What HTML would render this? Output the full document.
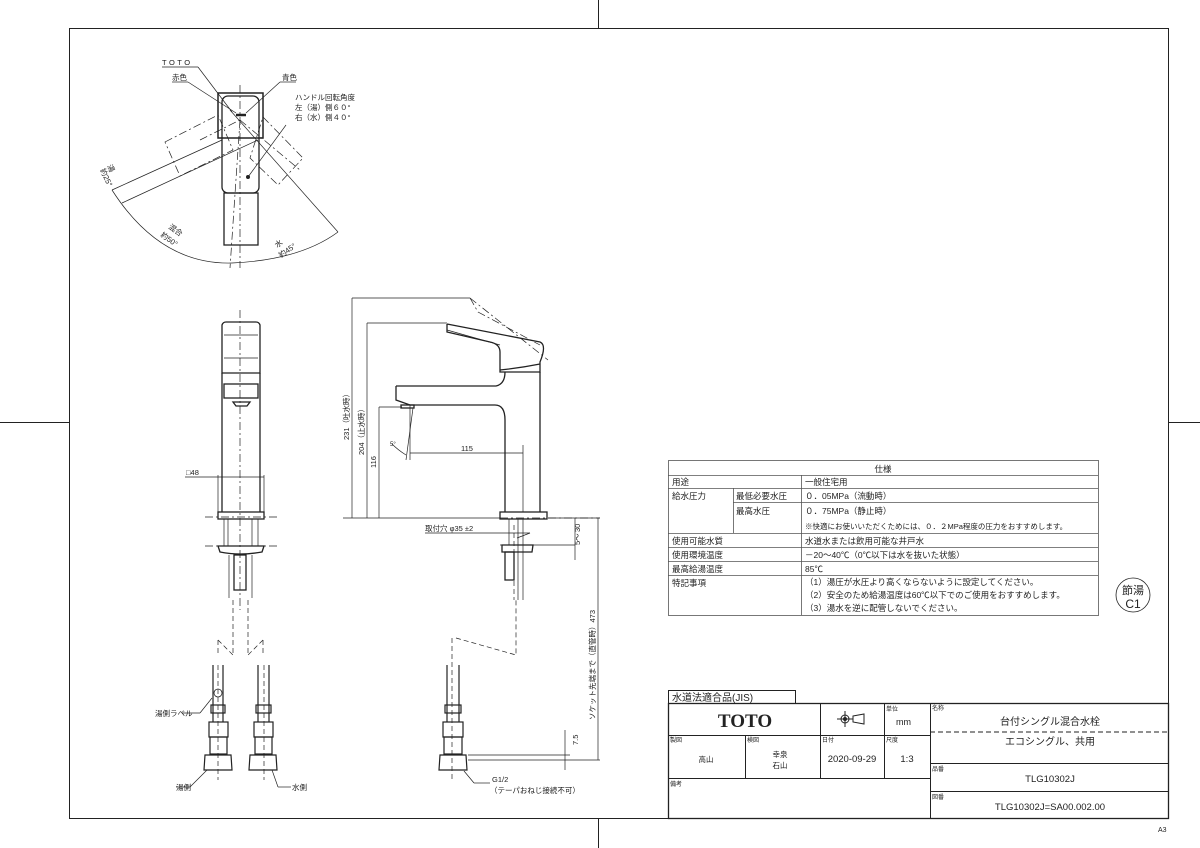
<!DOCTYPE html>
<html><head><meta charset="utf-8"><style>
html,body{margin:0;padding:0;background:#fff;width:1200px;height:848px;overflow:hidden}
svg{display:block}
text{font-family:"Liberation Sans","Noto Sans CJK JP",sans-serif;fill:#222}
</style></head><body>
<svg width="1200" height="848" viewBox="0 0 1200 848" xmlns="http://www.w3.org/2000/svg">
<g stroke="#222" fill="none" stroke-width="1">
<rect x="69.5" y="28.5" width="1099" height="790"/>
<line x1="598.5" y1="0" x2="598.5" y2="28"/>
<line x1="598.5" y1="818" x2="598.5" y2="848"/>
<line x1="0" y1="422.5" x2="69" y2="422.5"/>
<line x1="1168" y1="422.5" x2="1200" y2="422.5"/>

<!-- TOP VIEW -->
<rect x="218" y="93" width="45" height="45" stroke-width="1.5"/>
<rect x="222" y="96" width="37" height="97" rx="6" stroke-width="1.3"/>
<rect x="224" y="193" width="34" height="52" stroke-width="1.3"/>
<line x1="236" y1="115" x2="246" y2="115" stroke-width="2.5"/>
<circle cx="248" cy="177" r="1.5" fill="#222"/>
<g stroke-dasharray="8,3,2,3" stroke-width="0.7">
<line x1="240" y1="85" x2="240" y2="268"/>
<polygon points="165,142 218,115 233,150 180,176"/>
<polygon points="263,117 303,158 278,185 250,158"/>
<line x1="200" y1="140" x2="240" y2="120"/>
<line x1="240" y1="120" x2="230" y2="268"/>
<line x1="240" y1="120" x2="300" y2="170"/>
</g>
<g stroke-width="0.7">
<line x1="112" y1="190" x2="222" y2="140"/>
<line x1="122" y1="203" x2="258" y2="140"/>
<line x1="230" y1="110" x2="338" y2="232"/>
<path d="M112,190 Q160,265 232,263 Q300,260 338,232"/>
<line x1="162" y1="67" x2="198" y2="67"/>
<line x1="198" y1="67" x2="232" y2="112"/>
<line x1="172" y1="82" x2="188" y2="82"/>
<line x1="188" y1="82" x2="236" y2="113"/>
<line x1="296" y1="82" x2="280" y2="82"/>
<line x1="280" y1="82" x2="246" y2="113"/>
<line x1="286" y1="125" x2="248" y2="177"/>
</g>

<!-- FRONT VIEW -->
<g stroke-width="1.3">
<path d="M222,325 Q223,322 226,322 L256,322 Q259,322 260,325 L260,373 L222,373 Z"/>
<path d="M222,373 L222,512 M260,373 L260,512"/>
<rect x="224" y="384" width="34" height="14"/>
<path d="M233,402 L250,402 L247,406 L236,406 Z"/>
<rect x="218" y="512" width="46" height="7"/>
<path d="M218,546 L264,546 L262,552 Q240,556 220,552 Z"/>
<rect x="234" y="555" width="12" height="35"/>
</g>
<g stroke-width="0.7">
<line x1="224" y1="519" x2="224" y2="546"/><line x1="258" y1="519" x2="258" y2="546"/>
<line x1="228" y1="519" x2="228" y2="546"/><line x1="252" y1="519" x2="252" y2="546"/>
<line x1="229" y1="555" x2="229" y2="598"/><line x1="252" y1="555" x2="252" y2="598"/>
<line x1="218" y1="475" x2="218" y2="512"/><line x1="264" y1="475" x2="264" y2="512"/>
<line x1="185" y1="477" x2="264" y2="477"/>
<line x1="224" y1="335" x2="258" y2="335"/><line x1="224" y1="358" x2="258" y2="358"/>
</g>
<g stroke-dasharray="8,3,2,3" stroke-width="0.7">
<line x1="240" y1="310" x2="240" y2="610"/>
<line x1="205" y1="517" x2="280" y2="517"/>
<line x1="205" y1="546" x2="280" y2="546"/>
</g>
<g stroke-dasharray="5,3" stroke-width="0.7">
<line x1="233" y1="600" x2="233" y2="655"/><line x1="248" y1="600" x2="248" y2="655"/>
<polyline points="218,640 233,655"/><polyline points="263,640 248,655"/>
<line x1="218" y1="640" x2="218" y2="655"/><line x1="263" y1="640" x2="263" y2="655"/>
<line x1="218" y1="665" x2="218" y2="780"/><line x1="264" y1="665" x2="264" y2="780"/>
<line x1="452" y1="638" x2="452" y2="780"/>
<polyline points="456,638 516,655 516,598"/>
</g>
<g stroke-width="1.2">
<path d="M213,665 L213,722 M223,665 L223,722"/>
<path d="M258,665 L258,722 M269,665 L269,722"/>
<path d="M447,665 L447,722 M459,665 L459,722"/>
<rect x="211" y="705" width="14" height="8"/><rect x="256" y="705" width="15" height="8"/><rect x="445" y="705" width="16" height="8"/>
<rect x="209" y="722" width="19" height="15"/><rect x="254" y="722" width="19" height="15"/><rect x="443" y="722" width="20" height="15"/>
<rect x="210" y="737" width="17" height="17"/><rect x="255" y="737" width="17" height="17"/><rect x="444" y="737" width="18" height="17"/>
<path d="M205,755 L231,755 L232,770 L204,770 Z"/><path d="M250,755 L276,755 L277,770 L249,770 Z"/><path d="M440,755 L466,755 L467,770 L439,770 Z"/>
<circle cx="218" cy="693" r="4" stroke-width="0.8"/>
</g>
<g stroke-width="0.7">
<line x1="182" y1="713" x2="200" y2="713"/><line x1="200" y1="713" x2="212" y2="698"/>
<line x1="176" y1="787" x2="190" y2="787"/><line x1="190" y1="787" x2="207" y2="770"/>
<line x1="291" y1="787" x2="278" y2="787"/><line x1="278" y1="787" x2="272" y2="770"/>
<line x1="490" y1="783" x2="474" y2="783"/><line x1="474" y1="783" x2="464" y2="771"/>
</g>

<!-- SIDE VIEW -->
<g stroke-width="1.3">
<path d="M447,324 L447,332 L490,342 Q500,344 500,352 L500,372 L540,372 L540,362 Q547,345 540,342 L447,324"/>
<path d="M500,370 Q520,368 540,364"/>
<path d="M396,386 L496,386 Q505,384 505,372 M396,386 L396,400 L410,405 L495,405 Q505,405 505,420 L505,512 M540,372 L540,512"/>
<rect x="401" y="405" width="13" height="3"/>
<rect x="500" y="512" width="47" height="7"/>
<path d="M502,545 L533,545 L532,552 L502,552 Z"/>
<rect x="505" y="552" width="9" height="28"/>
</g>
<g stroke-width="0.7">
<line x1="509" y1="519" x2="509" y2="545"/><line x1="523" y1="519" x2="523" y2="600"/>
<line x1="518" y1="519" x2="518" y2="600"/>
<line x1="447" y1="330" x2="500" y2="345"/>
<line x1="352" y1="298" x2="470" y2="298"/><line x1="367" y1="323" x2="447" y2="323"/>
<line x1="379" y1="407" x2="402" y2="407"/>
<line x1="352" y1="298" x2="352" y2="518"/><line x1="367" y1="323" x2="367" y2="518"/><line x1="379" y1="407" x2="379" y2="518"/>
<line x1="343" y1="518" x2="500" y2="518"/>
<line x1="410" y1="453" x2="523" y2="453"/>
<line x1="410" y1="405" x2="410" y2="460"/><line x1="413" y1="408" x2="406" y2="460"/>
<line x1="523" y1="445" x2="523" y2="512"/>
<path d="M392,444 Q398,450 406,455"/>
<line x1="425" y1="533" x2="530" y2="533"/>
<line x1="517" y1="538" x2="530" y2="533"/>
<line x1="500" y1="545" x2="575" y2="545"/>
<line x1="548" y1="518" x2="600" y2="518"/>
<line x1="575" y1="518" x2="575" y2="560"/>
<line x1="598" y1="518" x2="598" y2="760"/>
<line x1="565" y1="730" x2="565" y2="770"/>
<line x1="468" y1="755" x2="570" y2="755"/>
<line x1="468" y1="760" x2="600" y2="760"/>
</g>
<g stroke-dasharray="8,3,2,3" stroke-width="0.7">
<line x1="470" y1="298" x2="548" y2="360"/>
<path d="M470,298 L478,312 L540,345"/>
<line x1="500" y1="518" x2="600" y2="518"/>
</g>
<g stroke-dasharray="5,3" stroke-width="0.7">
<line x1="514" y1="525" x2="514" y2="600"/>
</g>

<!-- SPEC TABLE -->
<g stroke-width="0.8" stroke="#555">
<rect x="668.5" y="460.5" width="430" height="155"/>
<line x1="668" y1="475.5" x2="1098" y2="475.5"/>
<line x1="668" y1="488.5" x2="1098" y2="488.5"/>
<line x1="733" y1="502.5" x2="1098" y2="502.5"/>
<line x1="668" y1="533.5" x2="1098" y2="533.5"/>
<line x1="668" y1="547.5" x2="1098" y2="547.5"/>
<line x1="668" y1="561.5" x2="1098" y2="561.5"/>
<line x1="668" y1="575.5" x2="1098" y2="575.5"/>
<line x1="801.5" y1="475" x2="801.5" y2="615"/>
<line x1="733.5" y1="488" x2="733.5" y2="533"/>
</g>
<circle cx="1133" cy="595" r="17" stroke-width="0.8"/>

<!-- TITLE BLOCK -->
<g stroke-width="1">
<rect x="668.5" y="690.5" width="127" height="13"/>
<rect x="668.5" y="703.5" width="500" height="115" stroke-width="1.3"/>
<line x1="668" y1="735.5" x2="930" y2="735.5"/>
<line x1="668" y1="778.5" x2="930" y2="778.5"/>
<line x1="820.5" y1="703" x2="820.5" y2="778"/>
<line x1="884.5" y1="703" x2="884.5" y2="778"/>
<line x1="930.5" y1="703" x2="930.5" y2="818"/>
<line x1="745.5" y1="735" x2="745.5" y2="778"/>
<line x1="930" y1="763.5" x2="1168" y2="763.5"/>
<line x1="930" y1="791.5" x2="1168" y2="791.5"/>
<line x1="930" y1="732" x2="1168" y2="732" stroke-dasharray="5,3"/>
<circle cx="845" cy="719" r="4"/><circle cx="845" cy="719" r="1.5" fill="#222"/>
<line x1="837" y1="719" x2="853" y2="719"/><line x1="845" y1="711" x2="845" y2="727"/>
<path d="M853,716 L864,714 L864,724 L853,722 Z"/>
</g>
</g>

<!-- TEXT -->
<g font-size="7.5">
<text x="162" y="65" letter-spacing="2.5">TOTO</text>
<text x="172" y="80">赤色</text>
<text x="282" y="80">青色</text>
<text x="295" y="100">ハンドル回転角度</text>
<text x="295" y="110">左（湯）側６０°</text>
<text x="295" y="120">右（水）側４０°</text>
<text transform="translate(107,166) rotate(65)">湯</text>
<text transform="translate(100,170) rotate(65)">約25°</text>
<text transform="translate(168,228) rotate(35)">混合</text>
<text transform="translate(160,236) rotate(35)">約50°</text>
<text transform="translate(277,248) rotate(-35)">水</text>
<text transform="translate(281,258) rotate(-35)">約45°</text>
<text x="186" y="475">□48</text>
<text transform="translate(349,440) rotate(-90)">231（吐水時）</text>
<text transform="translate(364,455) rotate(-90)">204（止水時）</text>
<text transform="translate(376,468) rotate(-90)">116</text>
<text x="461" y="451">115</text>
<text x="390" y="446" font-size="6">5°</text>
<text x="425" y="531">取付穴 φ35 ±2</text>
<text transform="translate(580,532) rotate(-90)">30</text>
<text transform="translate(580,545) rotate(-90)">5～</text>
<text transform="translate(595,720) rotate(-90)">ソケット先端まで（直管時）473</text>
<text transform="translate(578,745) rotate(-90)">7.5</text>
<text x="492" y="782">G1/2</text>
<text x="490" y="793">（テーパおねじ接続不可）</text>
<text x="155" y="716">湯側ラベル</text>
<text x="176" y="790">湯側</text>
<text x="292" y="790">水側</text>
<text x="1158" y="832" font-size="7">A3</text>
</g>
<g font-size="8.5">
<text x="883" y="472" text-anchor="middle">仕様</text>
<text x="672" y="485">用途</text><text x="805" y="485">一般住宅用</text>
<text x="672" y="499">給水圧力</text>
<text x="736" y="499">最低必要水圧</text><text x="805" y="499">０．05MPa（流動時）</text>
<text x="736" y="514">最高水圧</text><text x="805" y="514">０．75MPa（静止時）</text>
<text x="805" y="529" font-size="7.5">※快適にお使いいただくためには、０．２MPa程度の圧力をおすすめします。</text>
<text x="672" y="544">使用可能水質</text><text x="805" y="544">水道水または飲用可能な井戸水</text>
<text x="672" y="558">使用環境温度</text><text x="805" y="558">－20～40℃（0℃以下は水を抜いた状態）</text>
<text x="672" y="572">最高給湯温度</text><text x="805" y="572">85℃</text>
<text x="672" y="586">特記事項</text>
<text x="805" y="585">（1）湯圧が水圧より高くならないように設定してください。</text>
<text x="805" y="598">（2）安全のため給湯温度は60℃以下でのご使用をおすすめします。</text>
<text x="805" y="611">（3）湯水を逆に配管しないでください。</text>
<text x="1133" y="594" text-anchor="middle" font-size="11">節湯</text>
<text x="1133" y="608" text-anchor="middle" font-size="12">C1</text>
</g>
<g>
<text x="672" y="701" font-size="10">水道法適合品(JIS)</text>
<text x="745" y="727" text-anchor="middle" style="font-family:'Liberation Serif',serif;font-size:19px;font-weight:bold">TOTO</text>
<text x="886" y="711" font-size="6">単位</text>
<text x="896" y="725" font-size="9">mm</text>
<text x="932" y="710" font-size="6">名称</text>
<text x="1050" y="725" font-size="10" text-anchor="middle">台付シングル混合水栓</text>
<text x="1050" y="745" font-size="10" text-anchor="middle">エコシングル、共用</text>
<text x="670" y="742" font-size="6">製図</text>
<text x="747" y="742" font-size="6">検図</text>
<text x="822" y="742" font-size="6">日付</text>
<text x="886" y="742" font-size="6">尺度</text>
<text x="706" y="762" font-size="7.5" text-anchor="middle">高山</text>
<text x="780" y="757" font-size="7.5" text-anchor="middle">幸泉</text>
<text x="780" y="768" font-size="7.5" text-anchor="middle">石山</text>
<text x="852" y="762" font-size="9.5" text-anchor="middle">2020-09-29</text>
<text x="907" y="762" font-size="9.5" text-anchor="middle">1:3</text>
<text x="670" y="786" font-size="6">備考</text>
<text x="932" y="771" font-size="6">品番</text>
<text x="1050" y="782" font-size="9.5" text-anchor="middle">TLG10302J</text>
<text x="932" y="799" font-size="6">図番</text>
<text x="1050" y="810" font-size="9.5" text-anchor="middle">TLG10302J=SA00.002.00</text>
</g>
</svg>
</body></html>
